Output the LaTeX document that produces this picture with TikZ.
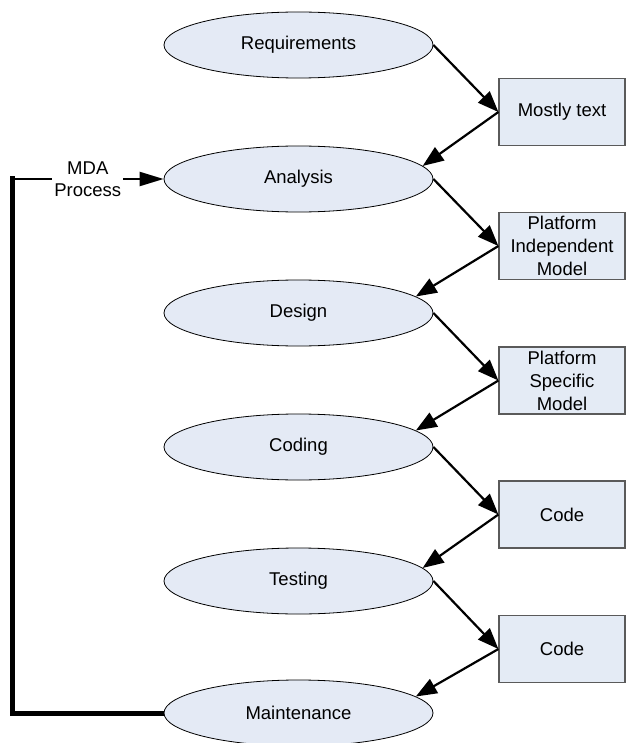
\documentclass[tikz,border=0pt]{standalone}
\usepackage{fontspec}
\setmainfont{Liberation Sans}
\usetikzlibrary{shapes.geometric,arrows.meta}
\definecolor{efill}{HTML}{E4EAF5}
\definecolor{bfill}{HTML}{E4EBF5}
\definecolor{bdraw}{HTML}{5A5A5A}
\tikzset{
  phase/.style={ellipse, draw=black, line width=0.8pt, fill=efill, minimum width=269pt, minimum height=66pt, inner sep=0pt, font=\fontsize{18.5}{23}\selectfont},
  artifact/.style={rectangle, draw=bdraw, line width=1.2pt, fill=bfill, minimum width=126pt, minimum height=67pt, inner sep=0pt, align=center, font=\fontsize{18.5}{23}\selectfont},
  flow/.style={line width=2.2pt, -{Triangle[length=21pt,width=16pt]}},
}
\begin{document}
\begin{tikzpicture}[x=1pt,y=-1pt]
\useasboundingbox (0,0) rectangle (627,743);
\clip (0,0) rectangle (627,743);
\node[phase] (req) at (298.5,45) {Requirements};
\node[phase] (ana) at (298.5,179) {Analysis};
\node[phase] (des) at (298.5,313) {Design};
\node[phase] (cod) at (298.5,447) {Coding};
\node[phase] (tst) at (298.5,581) {Testing};
\node[phase] (mnt) at (298.5,713) {Maintenance};
\node[artifact] (b1) at (562,112) {Mostly text};
\node[artifact] (b2) at (562,246) {Platform\\Independent\\Model};
\node[artifact] (b3) at (562,380.5) {Platform\\Specific\\Model};
\node[artifact] (b4) at (562,514.5) {Code};
\node[artifact] (b5) at (562,649) {Code};
\draw[flow] (req.east) -- (b1.west);
\draw[flow] (b1.west) -- (ana.6);
\draw[flow] (ana.east) -- (b2.west);
\draw[flow] (b2.west) -- (des.8);
\draw[flow] (des.east) -- (b3.west);
\draw[flow] (b3.west) -- (cod.8);
\draw[flow] (cod.east) -- (b4.west);
\draw[flow] (b4.west) -- (tst.6.5);
\draw[flow] (tst.east) -- (b5.west);
\draw[flow] (b5.west) -- (mnt.8);
\coordinate (lc) at (12,713);
\coordinate (tc) at (12,179);
\draw[line width=5pt] (mnt.west) -- (lc) -- ([yshift=2.5pt]tc);
\draw[line width=2.2pt, -{Triangle[length=24pt,width=14pt]}] (tc) -- node[fill=white, inner sep=2pt, align=center, font=\fontsize{18.5}{22.5}\selectfont] (lbl) {MDA\\Process} (ana.west);
\end{tikzpicture}
\end{document}
